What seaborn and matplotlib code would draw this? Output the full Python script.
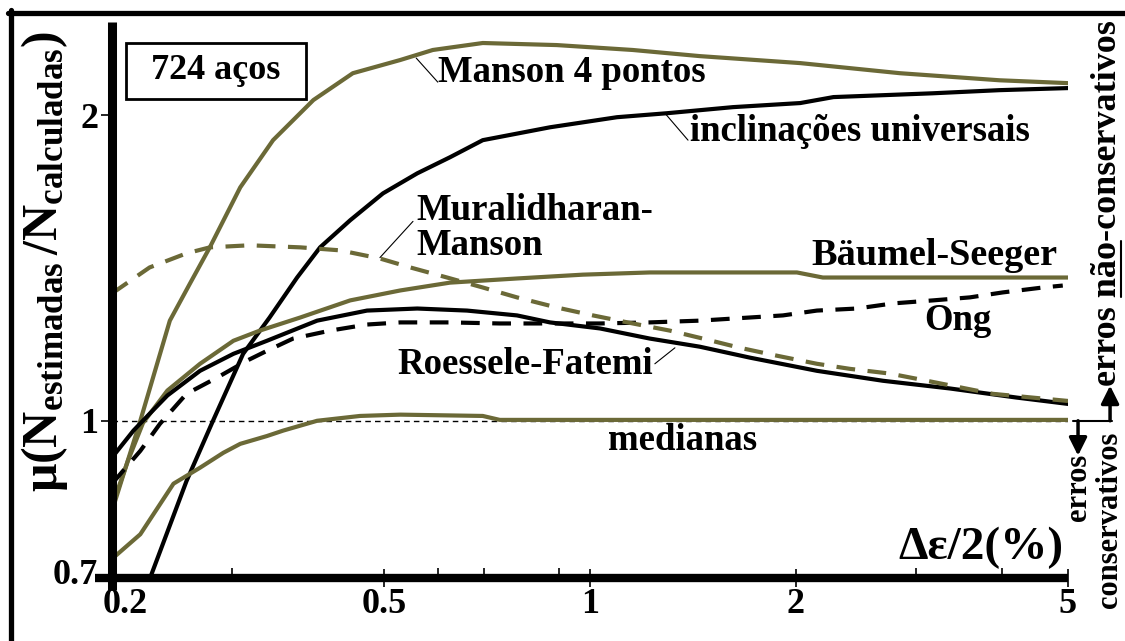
import matplotlib
matplotlib.use("Agg")
import numpy as np
import pandas as pd
import matplotlib.pyplot as plt
import matplotlib.transforms as mtransforms
import seaborn as sns
from matplotlib.patches import Rectangle
from matplotlib.lines import Line2D
from matplotlib.ticker import FixedLocator, FixedFormatter, NullFormatter

# Δε/2 (%) and μ(N_estimadas / N_calculadas) for each estimation method
m4p_x = [0.200, 0.220, 0.243, 0.260, 0.278, 0.308, 0.344, 0.394, 0.450, 0.528, 0.589, 0.697, 0.894, 1.155, 1.447, 2.03, 2.84, 3.97, 5.0]
m4p_y = [0.815, 1.000, 1.255, 1.365, 1.482, 1.698, 1.890, 2.070, 2.200, 2.267, 2.319, 2.356, 2.345, 2.319, 2.287, 2.251, 2.200, 2.165, 2.151]

univ_x = [0.227, 0.257, 0.281, 0.311, 0.340, 0.373, 0.403, 0.446, 0.498, 0.559, 0.624, 0.697, 0.874, 1.095, 1.295, 1.618, 2.03, 2.27, 3.17, 3.97, 5.0]
univ_y = [0.698, 0.872, 1.000, 1.164, 1.264, 1.384, 1.482, 1.576, 1.675, 1.753, 1.818, 1.890, 1.946, 1.991, 2.009, 2.037, 2.056, 2.084, 2.102, 2.117, 2.127]

mm_x = [0.200, 0.227, 0.257, 0.278, 0.318, 0.377, 0.431, 0.493, 0.546, 0.618, 0.697, 0.782, 0.894, 1.010, 1.155, 1.308, 1.462, 1.657, 1.877, 2.147, 2.399, 2.745, 3.109, 3.882, 5.0]
mm_y = [1.335, 1.416, 1.462, 1.482, 1.489, 1.482, 1.472, 1.445, 1.416, 1.384, 1.353, 1.323, 1.293, 1.270, 1.247, 1.227, 1.205, 1.180, 1.159, 1.138, 1.125, 1.113, 1.095, 1.063, 1.046]

rf_x = [0.200, 0.215, 0.227, 0.241, 0.269, 0.301, 0.337, 0.399, 0.472, 0.559, 0.661, 0.782, 0.874, 1.034, 1.223, 1.447, 1.713, 2.147, 2.681, 3.360, 4.208, 5.0]
rf_y = [0.920, 0.978, 1.016, 1.059, 1.120, 1.164, 1.199, 1.255, 1.284, 1.290, 1.284, 1.270, 1.250, 1.233, 1.205, 1.183, 1.154, 1.120, 1.095, 1.076, 1.054, 1.039]

ong_x = [0.200, 0.220, 0.235, 0.257, 0.285, 0.315, 0.337, 0.368, 0.417, 0.472, 0.528, 0.624, 0.738, 0.874, 1.034, 1.223, 1.447, 1.713, 1.915, 2.147, 2.457, 2.773, 3.173, 3.593, 4.014, 4.593, 4.913]
ong_y = [0.867, 0.934, 0.993, 1.063, 1.103, 1.146, 1.172, 1.205, 1.227, 1.244, 1.250, 1.250, 1.247, 1.247, 1.247, 1.250, 1.255, 1.264, 1.270, 1.284, 1.290, 1.305, 1.314, 1.323, 1.338, 1.353, 1.359]

bs_x = [0.200, 0.211, 0.222, 0.241, 0.269, 0.301, 0.329, 0.377, 0.446, 0.528, 0.624, 0.782, 0.976, 1.223, 2.007, 2.190, 5.0]
bs_y = [0.824, 0.913, 0.995, 1.071, 1.138, 1.199, 1.227, 1.264, 1.314, 1.344, 1.368, 1.381, 1.393, 1.400, 1.400, 1.384, 1.384]

med_x = [0.200, 0.220, 0.246, 0.269, 0.291, 0.308, 0.337, 0.356, 0.399, 0.461, 0.528, 0.697, 0.738, 5.0]
med_y = [0.731, 0.773, 0.867, 0.899, 0.930, 0.949, 0.966, 0.978, 1.000, 1.011, 1.014, 1.011, 1.002, 1.002]

x_ticks = [0.2, 0.5, 1, 2, 5]
x_tick_labels = ["0.2", "0.5", "1", "2", "5"]
x_minor_ticks = [0.3, 0.6, 0.7, 0.9, 3, 4]
y_ticks = [0.7, 1, 2]
y_tick_labels = ["0.7", "1", "2"]

OLIVE = "#6b6937"
DASH = (0, (4.5, 3))

series = [
    ("Manson 4 pontos", m4p_x, m4p_y, OLIVE, "-"),
    ("inclinações universais", univ_x, univ_y, "black", "-"),
    ("Bäumel-Seeger", bs_x, bs_y, OLIVE, "-"),
    ("medianas", med_x, med_y, OLIVE, "-"),
    ("Ong", ong_x, ong_y, "black", DASH),
    ("Roessele-Fatemi", rf_x, rf_y, "black", "-"),
    ("Muralidharan-Manson", mm_x, mm_y, OLIVE, DASH),
]
df = pd.concat(
    [pd.DataFrame({"deps": xs, "mu": ys, "metodo": name}) for name, xs, ys, _, _ in series],
    ignore_index=True,
)

sns.set_theme(style="white")
plt.rcParams["font.family"] = ["Liberation Serif", "DejaVu Serif"]
plt.rcParams["font.weight"] = "bold"
plt.rcParams["text.color"] = "black"
plt.rcParams["axes.labelcolor"] = "black"
plt.rcParams["mathtext.fontset"] = "custom"
plt.rcParams["mathtext.rm"] = "Liberation Serif:bold"
plt.rcParams["mathtext.it"] = "Liberation Serif:bold"
plt.rcParams["mathtext.bf"] = "Liberation Serif:bold"

W, H = 1125, 641
fig = plt.figure(figsize=(W / 100, H / 100), dpi=100)
ax = fig.add_axes([112 / W, 63 / H, 956 / W, 556 / H])
ax.set_xscale("log")
ax.set_yscale("log")

# reference line at μ = 1
ax.plot([0.2, 5], [1, 1], color="black", lw=1.0, linestyle=(0, (4, 3)), zorder=1)

for name, _, _, color, ls in series:
    sns.lineplot(data=df[df["metodo"] == name], x="deps", y="mu", color=color,
                 linewidth=3.0, linestyle=ls, estimator=None, sort=False, ax=ax, zorder=3)

ax.set_xlim(0.2, 5)
ax.set_ylim(0.7, 2.471)
ax.set_xlabel("")
ax.set_ylabel("")
for s in ax.spines.values():
    s.set_visible(False)

ax.xaxis.set_major_locator(FixedLocator(x_ticks))
ax.xaxis.set_major_formatter(FixedFormatter(x_tick_labels))
ax.xaxis.set_minor_locator(FixedLocator(x_minor_ticks))
ax.xaxis.set_minor_formatter(NullFormatter())
ax.yaxis.set_major_locator(FixedLocator(y_ticks))
ax.yaxis.set_major_formatter(FixedFormatter(y_tick_labels))
ax.yaxis.set_minor_locator(FixedLocator([]))
ax.tick_params(axis="x", which="major", direction="inout", length=13, width=1.2,
               labelsize=26, pad=1, color="black", labelcolor="black")
ax.tick_params(axis="x", which="minor", direction="in", length=7, width=1.2, color="black")
ax.tick_params(axis="y", which="major", direction="out", length=8, width=1.2,
               labelsize=26, pad=2, color="black", labelcolor="black")
ax.tick_params(bottom=True, left=True, which="both")
ax.tick_params(axis="y", which="minor", left=False)
first = ax.get_xticklabels()[0]
first.set_horizontalalignment("left")
first.set_transform(first.get_transform()
                    + mtransforms.ScaledTranslation(-0.09, 0, fig.dpi_scale_trans))
low = ax.get_yticklabels()[0]
low.set_transform(low.get_transform()
                  + mtransforms.ScaledTranslation(0, 0.06, fig.dpi_scale_trans))

# heavy axis lines
ax.plot([-0.018, 1.0], [0, 0], transform=ax.transAxes, color="black", lw=6,
        solid_capstyle="butt", clip_on=False, zorder=5)
ax.plot([0, 0], [-0.022, 1.0], transform=ax.transAxes, color="black", lw=6.5,
        solid_capstyle="butt", clip_on=False, zorder=5)

# curve labels and leader lines
LBL = 26.5
ax.text(0.60, 2.206, "Manson 4 pontos", fontsize=LBL, ha="left", va="center")
ax.plot([0.557, 0.599], [2.277, 2.156], color="black", lw=0.8)
ax.text(1.40, 1.929, "inclinações universais", fontsize=LBL, ha="left", va="center")
ax.plot([1.287, 1.391], [2.009, 1.890], color="black", lw=0.8)
ax.text(0.557, 1.547, "Muralidharan-\nManson", fontsize=LBL, ha="left", va="center",
        linespacing=1.0)
ax.plot([0.493, 0.551], [1.448, 1.572], color="black", lw=0.8)
ax.text(4.83, 1.455, "Bäumel-Seeger", fontsize=LBL + 1, ha="right", va="center")
ax.text(3.45, 1.255, "Ong", fontsize=LBL, ha="center", va="center")
ax.text(1.236, 1.136, "Roessele-Fatemi", fontsize=LBL, ha="right", va="center")
ax.plot([1.244, 1.331], [1.138, 1.180], color="black", lw=0.8)
ax.text(1.367, 0.9556, "medianas", fontsize=LBL, ha="center", va="center")

# sample size box
ax.add_patch(Rectangle((0.0146, 0.8615), 0.1884, 0.1005, transform=ax.transAxes,
                       facecolor="white", edgecolor="black", lw=2, zorder=6))
ax.text(0.1088, 0.912, "724 aços", transform=ax.transAxes, fontsize=26,
        ha="center", va="center", zorder=7)

# axis titles
ax.text(0.9948, 0.054, "Δε/2(%)", transform=ax.transAxes, fontsize=34,
        ha="right", va="center")
fig.text(45 / W, 1 - 262 / H,
         r"$\mu(\mathrm{N}_{\mathrm{estimadas}}\,/\mathrm{N}_{\mathrm{calculadas}})$",
         rotation=90, fontsize=36, ha="center", va="center")

# conservative / non-conservative error markers beside μ = 1
trans = mtransforms.blended_transform_factory(ax.transAxes, ax.transData)
X_DOWN, X_UP = 1.0105, 1.044
ax.plot([1.0052, 1.046], [1, 1], transform=trans, color="black", lw=1.5, clip_on=False)
arrow_kw = dict(arrowstyle="-|>,head_length=0.6,head_width=0.3", lw=2.5, color="black",
                shrinkA=0, shrinkB=0, mutation_scale=18)
ax.annotate("", xy=(X_DOWN, 0.924), xytext=(X_DOWN, 1.0), xycoords=trans,
            textcoords=trans, arrowprops=arrow_kw, annotation_clip=False)
ax.annotate("", xy=(X_UP, 1.083), xytext=(X_UP, 1.0), xycoords=trans,
            textcoords=trans, arrowprops=arrow_kw, annotation_clip=False)

SIDE = 26
t_up = ax.text(1.041, 1.083, "erros não-conservativos", transform=trans, rotation=90,
               fontsize=SIDE, ha="center", va="bottom", clip_on=False)
ax.text(X_DOWN, 0.928, "erros", transform=trans, rotation=90, fontsize=22,
        ha="center", va="top", clip_on=False)
ax.text(1.0429, 0.975, "conservativos", transform=trans, rotation=90, fontsize=22,
        ha="center", va="top", clip_on=False)

# underline under "não"
fig.canvas.draw()
renderer = fig.canvas.get_renderer()


def text_width(s, size):
    tmp = fig.text(0, 0, s, fontsize=size)
    w = tmp.get_window_extent(renderer).width
    tmp.remove()
    return w


bb = t_up.get_window_extent(renderer)
y_start = bb.y0 + text_width("erros ", SIDE)
y_end = bb.y0 + text_width("erros não", SIDE)
x_line = bb.x1 - 3
inv = fig.transFigure.inverted()
p0 = inv.transform((x_line, y_start))
p1 = inv.transform((x_line, y_end))
fig.add_artist(Line2D([p0[0], p1[0]], [p0[1], p1[1]], color="black", lw=1.5))

# outer frame (left and top edges)
fig.add_artist(Line2D([10.5 / W, 10.5 / W], [0, 1 - 10 / H], color="black", lw=3.8))
fig.add_artist(Line2D([8 / W, 1], [1 - 12.5 / H, 1 - 12.5 / H], color="black", lw=3.8))

fig.savefig("out.png", dpi=100, facecolor="white")
